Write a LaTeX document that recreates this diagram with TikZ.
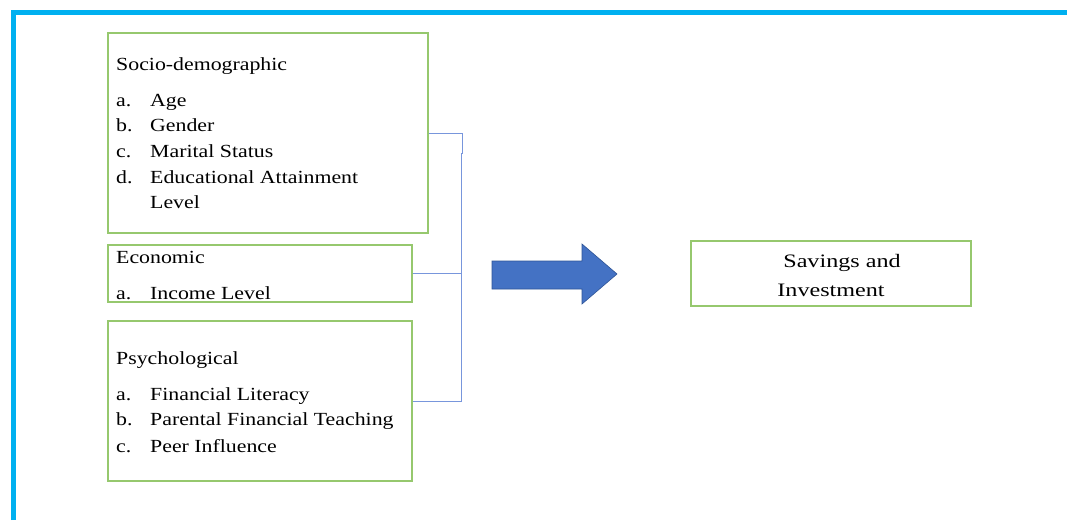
\documentclass[tikz,border=0pt]{standalone}
\usepackage{fontspec}
\setmainfont{Liberation Serif}
\newfontfamily\widefont[FakeStretch=1.18]{Liberation Serif}
\newfontfamily\widerfont[FakeStretch=1.27]{Liberation Serif}
\definecolor{framec}{RGB}{0,176,240}
\definecolor{boxg}{RGB}{150,200,110}
\definecolor{linkc}{RGB}{120,150,220}
\definecolor{arrowf}{RGB}{68,114,196}
\definecolor{arrowd}{RGB}{47,85,151}
\tikzset{
  fbox/.style={draw=boxg, line width=1.2pt, rectangle, inner sep=0pt},
  txt/.style={anchor=base west, inner sep=0pt, font=\widefont\fontsize{18.5}{22}\selectfont},
  stxt/.style={anchor=base, inner sep=0pt, font=\widerfont\fontsize{19}{22}\selectfont},
  link/.style={draw=linkc, line width=1pt}
}
\begin{document}
\begin{tikzpicture}[x=1pt,y=-1pt]
\useasboundingbox (0,0) rectangle (1067,520);
\fill[white] (0,0) rectangle (1067,520);
% frame
\draw[framec, line width=5pt] (13,520) -- (13,12.5) -- (1067,12.5);
% boxes
\node[fbox, minimum width=320pt, minimum height=200pt] (soc) at (268,133) {};
\node[fbox, minimum width=304pt, minimum height=57pt] (eco) at (260,273.5) {};
\node[fbox, minimum width=304pt, minimum height=160pt] (psy) at (260,401) {};
\node[fbox, minimum width=280pt, minimum height=65pt] (sav) at (831,273.5) {};
% texts
\node[txt] (t1) at (116,70) {Socio-demographic};
\node[txt] (t2) at (116,106) {a.};  \node[txt] (t3) at (150,106) {Age};
\node[txt] (t4) at (116,131) {b.};  \node[txt] (t5) at (150,131) {Gender};
\node[txt] (t6) at (116,157) {c.};  \node[txt] (t7) at (150,157) {Marital Status};
\node[txt] (t8) at (116,183) {d.};  \node[txt] (t9) at (150,183) {Educational Attainment};
\node[txt] (t10) at (150,208) {Level};
\node[txt] (e1) at (116,263) {Economic};
\node[txt] (e2) at (116,299) {a.};  \node[txt] (e3) at (150,299) {Income Level};
\node[txt] (p1) at (116,364) {Psychological};
\node[txt] (p2) at (116,400) {a.};  \node[txt] (p3) at (150,400) {Financial Literacy};
\node[txt] (p4) at (116,425) {b.};  \node[txt] (p5) at (150,425) {Parental Financial Teaching};
\node[txt] (p6) at (116,452) {c.};  \node[txt] (p7) at (150,452) {Peer Influence};
\node[stxt] (s1) at (842,267) {Savings and};
\node[stxt] (s2) at (831,296) {Investment};
% connectors
\coordinate (j0) at (462.5,133);
\coordinate (j1) at (462.5,153);
\coordinate (j2) at (461,153);
\coordinate (j3) at (461,401);
\draw[link] (soc.east) -- (j0) -- (j1) -- (j2) -- (j3) -- (psy.east);
\draw[link] (eco.east) -- (eco.east -| j3);
% block arrow
\draw[arrowd, fill=arrowf, line width=0.6pt] (492,261) -- (582,261) -- (582,244) -- (617,274) -- (582,304) -- (582,289) -- (492,289) -- cycle;
\end{tikzpicture}
\end{document}
